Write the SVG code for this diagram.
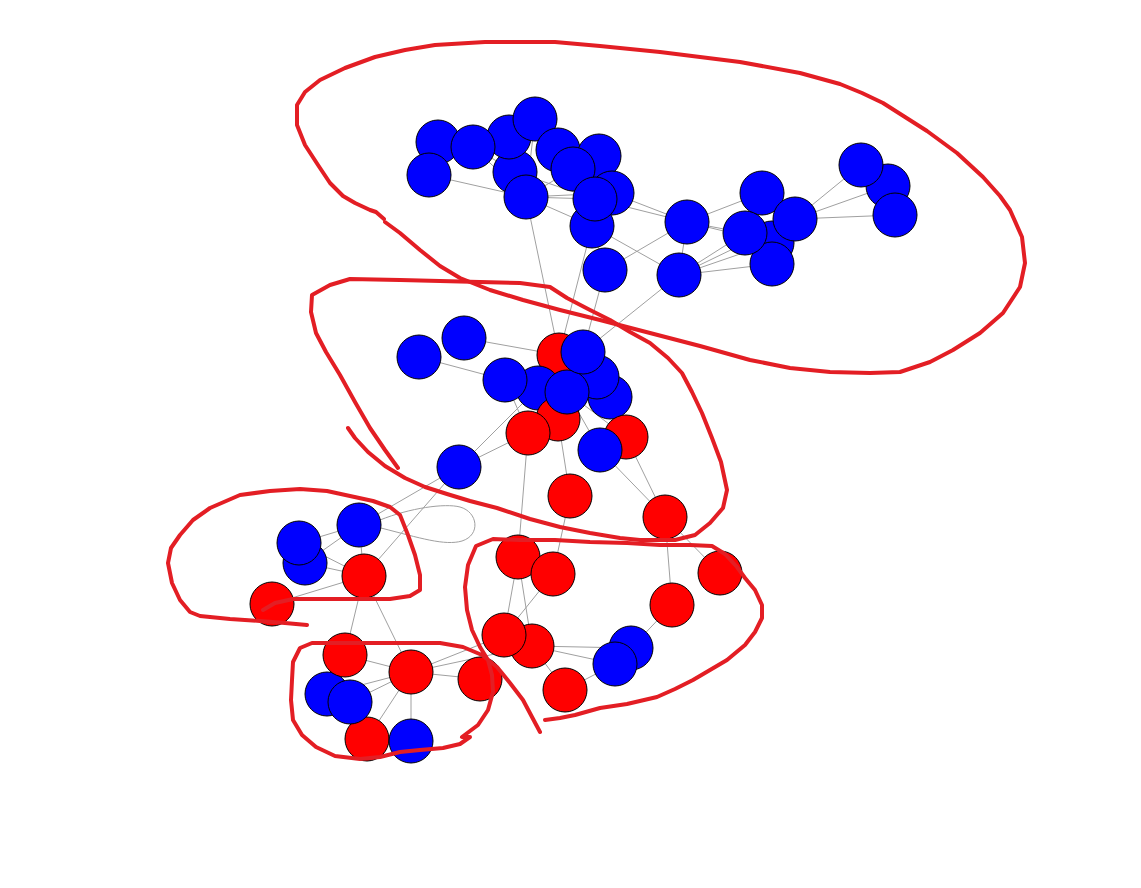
<svg xmlns="http://www.w3.org/2000/svg" width="1141" height="888" viewBox="0 0 1141 888">
<style>
.e{stroke:#a0a0a0;stroke-width:1;fill:none}
.b{fill:#0000ff;stroke:#000;stroke-width:1}
.r{fill:#ff0000;stroke:#000;stroke-width:1}
.h{fill:none;stroke:#e31e24;stroke-width:4;stroke-linecap:round;stroke-linejoin:round}
</style>
<rect width="1141" height="888" fill="#fff"/>
<g id="connectors">
<line class="e" x1="438" y1="142" x2="473" y2="147"/>
<line class="e" x1="429" y1="175" x2="526" y2="197"/>
<line class="e" x1="473" y1="147" x2="526" y2="197"/>
<line class="e" x1="473" y1="147" x2="515" y2="172"/>
<line class="e" x1="535" y1="119" x2="526" y2="197"/>
<line class="e" x1="535" y1="119" x2="515" y2="172"/>
<line class="e" x1="509" y1="137" x2="515" y2="172"/>
<line class="e" x1="526" y1="197" x2="573" y2="169"/>
<line class="e" x1="515" y1="172" x2="595" y2="199"/>
<line class="e" x1="526" y1="197" x2="612" y2="193"/>
<line class="e" x1="526" y1="197" x2="595" y2="199"/>
<line class="e" x1="526" y1="197" x2="592" y2="226"/>
<line class="e" x1="526" y1="197" x2="559" y2="355"/>
<line class="e" x1="558" y1="150" x2="573" y2="169"/>
<line class="e" x1="612" y1="193" x2="687" y2="222"/>
<line class="e" x1="595" y1="199" x2="687" y2="222"/>
<line class="e" x1="592" y1="226" x2="679" y2="275"/>
<line class="e" x1="605" y1="270" x2="687" y2="222"/>
<line class="e" x1="687" y1="222" x2="762" y2="193"/>
<line class="e" x1="687" y1="222" x2="745" y2="233"/>
<line class="e" x1="687" y1="222" x2="772" y2="243"/>
<line class="e" x1="687" y1="222" x2="679" y2="275"/>
<line class="e" x1="679" y1="275" x2="745" y2="233"/>
<line class="e" x1="679" y1="275" x2="772" y2="243"/>
<line class="e" x1="679" y1="275" x2="795" y2="219"/>
<line class="e" x1="679" y1="275" x2="772" y2="264"/>
<line class="e" x1="762" y1="193" x2="795" y2="219"/>
<line class="e" x1="795" y1="219" x2="861" y2="165"/>
<line class="e" x1="795" y1="219" x2="888" y2="186"/>
<line class="e" x1="795" y1="219" x2="895" y2="215"/>
<line class="e" x1="592" y1="226" x2="605" y2="270"/>
<line class="e" x1="605" y1="270" x2="583" y2="352"/>
<line class="e" x1="592" y1="226" x2="559" y2="355"/>
<line class="e" x1="679" y1="275" x2="583" y2="352"/>
<line class="e" x1="419" y1="357" x2="505" y2="380"/>
<line class="e" x1="464" y1="338" x2="559" y2="355"/>
<line class="e" x1="459" y1="467" x2="528" y2="433"/>
<line class="e" x1="459" y1="467" x2="538" y2="388"/>
<line class="e" x1="528" y1="433" x2="505" y2="380"/>
<line class="e" x1="528" y1="433" x2="518" y2="557"/>
<line class="e" x1="558" y1="419" x2="570" y2="496"/>
<line class="e" x1="600" y1="450" x2="665" y2="517"/>
<line class="e" x1="626" y1="437" x2="665" y2="517"/>
<line class="e" x1="567" y1="392" x2="600" y2="450"/>
<line class="e" x1="567" y1="392" x2="626" y2="437"/>
<line class="e" x1="459" y1="467" x2="359" y2="525"/>
<line class="e" x1="459" y1="467" x2="364" y2="576"/>
<path class="e" d="M380,520 C410,508 445,503 460,507 C478,512 481,535 462,541 C445,546 420,538 381,528"/>
<line class="e" x1="299" y1="543" x2="359" y2="525"/>
<line class="e" x1="305" y1="563" x2="359" y2="525"/>
<line class="e" x1="299" y1="543" x2="364" y2="576"/>
<line class="e" x1="305" y1="563" x2="364" y2="576"/>
<line class="e" x1="272" y1="604" x2="364" y2="576"/>
<line class="e" x1="359" y1="525" x2="364" y2="576"/>
<line class="e" x1="364" y1="576" x2="345" y2="655"/>
<line class="e" x1="364" y1="576" x2="411" y2="672"/>
<line class="e" x1="345" y1="655" x2="411" y2="672"/>
<line class="e" x1="327" y1="694" x2="411" y2="672"/>
<line class="e" x1="350" y1="702" x2="411" y2="672"/>
<line class="e" x1="367" y1="739" x2="411" y2="672"/>
<line class="e" x1="411" y1="672" x2="411" y2="741"/>
<line class="e" x1="411" y1="672" x2="480" y2="679"/>
<line class="e" x1="411" y1="672" x2="504" y2="635"/>
<line class="e" x1="411" y1="672" x2="532" y2="646"/>
<line class="e" x1="518" y1="557" x2="504" y2="635"/>
<line class="e" x1="518" y1="557" x2="532" y2="646"/>
<line class="e" x1="553" y1="574" x2="504" y2="635"/>
<line class="e" x1="553" y1="574" x2="570" y2="496"/>
<line class="e" x1="665" y1="517" x2="672" y2="605"/>
<line class="e" x1="665" y1="517" x2="720" y2="573"/>
<line class="e" x1="672" y1="605" x2="631" y2="648"/>
<line class="e" x1="532" y1="646" x2="631" y2="648"/>
<line class="e" x1="532" y1="646" x2="615" y2="664"/>
<line class="e" x1="565" y1="690" x2="615" y2="664"/>
<line class="e" x1="532" y1="646" x2="565" y2="690"/>
</g>
<g id="n_t1"><circle class="b" cx="438" cy="142" r="22"/></g>
<g id="n_t7"><circle class="b" cx="429" cy="175" r="22"/></g>
<g id="n_t8"><circle class="b" cx="515" cy="172" r="22"/></g>
<g id="n_t3"><circle class="b" cx="509" cy="137" r="22"/></g>
<g id="n_t2"><circle class="b" cx="473" cy="147" r="22"/></g>
<g id="n_t4"><circle class="b" cx="535" cy="119" r="22"/></g>
<g id="n_t5"><circle class="b" cx="558" cy="150" r="22"/></g>
<g id="n_t6"><circle class="b" cx="599" cy="156" r="22"/></g>
<g id="n_t9"><circle class="b" cx="573" cy="169" r="22"/></g>
<g id="n_t10"><circle class="b" cx="612" cy="193" r="22"/></g>
<g id="n_t11"><circle class="b" cx="526" cy="197" r="22"/></g>
<g id="n_t13"><circle class="b" cx="592" cy="226" r="22"/></g>
<g id="n_t12"><circle class="b" cx="595" cy="199" r="22"/></g>
<g id="n_t14"><circle class="b" cx="687" cy="222" r="22"/></g>
<g id="n_th"><circle class="b" cx="772" cy="243" r="22"/></g>
<g id="n_t18"><circle class="b" cx="772" cy="264" r="22"/></g>
<g id="n_t15"><circle class="b" cx="762" cy="193" r="22"/></g>
<g id="n_t16"><circle class="b" cx="795" cy="219" r="22"/></g>
<g id="n_t17"><circle class="b" cx="745" cy="233" r="22"/></g>
<g id="n_t19"><circle class="b" cx="605" cy="270" r="22"/></g>
<g id="n_t20"><circle class="b" cx="679" cy="275" r="22"/></g>
<g id="n_t22"><circle class="b" cx="888" cy="186" r="22"/></g>
<g id="n_t21"><circle class="b" cx="861" cy="165" r="22"/></g>
<g id="n_t23"><circle class="b" cx="895" cy="215" r="22"/></g>
<g id="n_m3"><circle class="r" cx="559" cy="355" r="22"/></g>
<g id="n_m8"><circle class="b" cx="610" cy="397" r="22"/></g>
<g id="n_m7"><circle class="b" cx="597" cy="377" r="22"/></g>
<g id="n_m6"><circle class="b" cx="538" cy="388" r="22"/></g>
<g id="n_m11"><circle class="r" cx="558" cy="419" r="22"/></g>
<g id="n_m10"><circle class="r" cx="528" cy="433" r="22"/></g>
<g id="n_m5"><circle class="b" cx="505" cy="380" r="22"/></g>
<g id="n_m9"><circle class="b" cx="567" cy="392" r="22"/></g>
<g id="n_m4"><circle class="b" cx="583" cy="352" r="22"/></g>
<g id="n_m12"><circle class="r" cx="626" cy="437" r="22"/></g>
<g id="n_m13"><circle class="b" cx="600" cy="450" r="22"/></g>
<g id="n_m1"><circle class="b" cx="419" cy="357" r="22"/></g>
<g id="n_m2"><circle class="b" cx="464" cy="338" r="22"/></g>
<g id="n_m14"><circle class="b" cx="459" cy="467" r="22"/></g>
<g id="n_m15"><circle class="r" cx="570" cy="496" r="22"/></g>
<g id="n_m16"><circle class="r" cx="665" cy="517" r="22"/></g>
<g id="n_l3"><circle class="b" cx="305" cy="563" r="22"/></g>
<g id="n_l2"><circle class="b" cx="299" cy="543" r="22"/></g>
<g id="n_l1"><circle class="b" cx="359" cy="525" r="22"/></g>
<g id="n_l4"><circle class="r" cx="364" cy="576" r="22"/></g>
<g id="n_l5"><circle class="r" cx="272" cy="604" r="22"/></g>
<g id="n_b6"><circle class="r" cx="367" cy="739" r="22"/></g>
<g id="n_b7"><circle class="b" cx="411" cy="741" r="22"/></g>
<g id="n_b4"><circle class="b" cx="327" cy="694" r="22"/></g>
<g id="n_b5"><circle class="b" cx="350" cy="702" r="22"/></g>
<g id="n_b1"><circle class="r" cx="345" cy="655" r="22"/></g>
<g id="n_b2"><circle class="r" cx="411" cy="672" r="22"/></g>
<g id="n_b3"><circle class="r" cx="480" cy="679" r="22"/></g>
<g id="n_r1"><circle class="r" cx="518" cy="557" r="22"/></g>
<g id="n_r2"><circle class="r" cx="553" cy="574" r="22"/></g>
<g id="n_r3"><circle class="r" cx="720" cy="573" r="22"/></g>
<g id="n_r4"><circle class="r" cx="672" cy="605" r="22"/></g>
<g id="n_r6"><circle class="r" cx="532" cy="646" r="22"/></g>
<g id="n_r5"><circle class="r" cx="504" cy="635" r="22"/></g>
<g id="n_r7"><circle class="b" cx="631" cy="648" r="22"/></g>
<g id="n_r8"><circle class="b" cx="615" cy="664" r="22"/></g>
<g id="n_r9"><circle class="r" cx="565" cy="690" r="22"/></g>
<g id="annotations">
<path class="h" d="M384,219 L376,212 L370,210 L355,203 L343,196 L330,183 L318,165 L305,145 L297,125 L297,105 L305,92 L320,80 L345,68 L375,57 L405,50 L435,45 L485,42 L555,42 L600,46 L660,52 L740,62 L800,73 L840,84 L862,93 L883,103 L905,117 L927,131 L957,153 L983,177 L1000,196 L1010,210 L1022,237 L1025,263 L1020,287 L1003,313 L980,333 L953,350 L930,362 L900,372 L870,373 L830,372 L790,368 L750,360 L700,346 L650,333 L600,320 L560,310 L523,300 L490,290 L460,278 L440,266 L420,250 L400,233 L385,222"/>
<path class="h" d="M398,468 L385,450 L370,428 L355,402 L340,375 L326,352 L316,333 L311,312 L312,295 L330,285 L350,279 L400,280 L440,281 L480,282 L520,283 L550,287 L567,298 L590,310 L610,320 L630,332 L650,343 L668,358 L682,373 L692,392 L702,413 L712,438 L721,462 L727,490 L723,508 L710,523 L695,535 L675,540 L640,540 L620,538 L590,533 L560,527 L530,519 L497,508 L470,501 L447,494 L425,487 L405,478 L385,466 L368,452 L355,438 L348,428"/>
<path class="h" d="M307,625 L285,623 L260,621 L230,619 L200,616 L190,612 L180,600 L172,583 L168,563 L171,548 L180,535 L193,520 L210,508 L240,495 L270,491 L300,489 L327,491 L350,496 L373,501 L390,507 L400,515 L408,535 L415,555 L420,575 L420,590 L410,596 L390,599 L360,599 L320,599 L293,599 L275,603 L263,610"/>
<path class="h" d="M545,720 L560,718 L575,715 L600,708 L627,704 L657,697 L675,689 L693,680 L710,670 L727,660 L745,645 L755,632 L762,618 L762,605 L755,590 L745,578 L737,567 L725,554 L712,546 L690,545 L660,545 L627,543 L590,542 L555,540 L520,540 L493,539 L476,546 L468,565 L465,587 L467,610 L472,630 L480,647 L488,660 L492,675 L493,692 L488,710 L478,725 L462,737 L470,737 L460,744 L443,748 L420,750 L400,752 L380,757 L360,759 L335,756 L316,747 L302,735 L293,720 L291,700 L292,680 L293,662 L300,648 L312,643 L350,643 L400,643 L440,643 L463,647 L482,655 L497,667 L510,683 L523,700 L532,717 L540,732"/>
</g>
</svg>
